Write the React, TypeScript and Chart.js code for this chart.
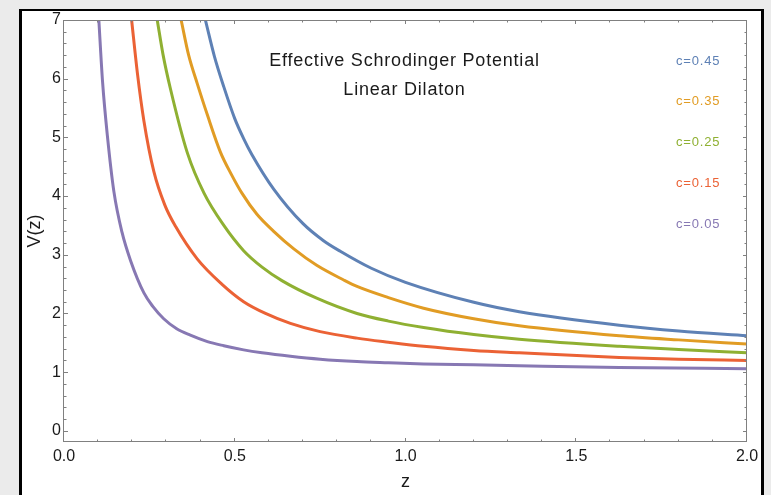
import React, { useEffect, useRef } from "react";
import { Chart, registerables } from "chart.js";

Chart.register(...registerables);

// ---- data ----
const seriesNames = ["c=0.45", "c=0.35", "c=0.25", "c=0.15", "c=0.05"];
const seriesColors = ["#5E81B5", "#E19C24", "#8FB032", "#EB6235", "#8778B3"];

const zC045 = [0.414, 0.44, 0.468, 0.5, 0.526, 0.55, 0.614, 0.7, 0.76, 0.809, 0.9, 1.0, 1.2, 1.333, 1.626, 1.8, 2.0];
const vC045 = [7.0, 6.39, 5.86, 5.32, 4.98, 4.71, 4.12, 3.53, 3.24, 3.06, 2.77, 2.53, 2.19, 2.03, 1.8, 1.7, 1.62];

const zC035 = [0.343, 0.365, 0.39, 0.42, 0.458, 0.49, 0.521, 0.565, 0.614, 0.673, 0.74, 0.819, 0.858, 0.95, 1.053, 1.2, 1.333, 1.626, 1.8, 2.0];
const vC035 = [7.0, 6.4, 5.92, 5.38, 4.75, 4.37, 4.05, 3.69, 3.4, 3.1, 2.82, 2.57, 2.46, 2.27, 2.09, 1.91, 1.79, 1.62, 1.55, 1.48];

const zC025 = [0.273, 0.29, 0.312, 0.361, 0.41, 0.468, 0.526, 0.58, 0.638, 0.74, 0.858, 0.95, 1.053, 1.2, 1.333, 1.626, 1.8, 2.0];
const vC025 = [7.0, 6.41, 5.82, 4.74, 4.05, 3.5, 3.07, 2.79, 2.56, 2.26, 2.0, 1.87, 1.76, 1.64, 1.56, 1.44, 1.385, 1.33];

const zC015 = [0.198, 0.215, 0.234, 0.263, 0.295, 0.327, 0.39, 0.462, 0.526, 0.59, 0.663, 0.75, 0.858, 0.95, 1.053, 1.2, 1.333, 1.626, 1.8, 2.0];
const vC015 = [7.0, 6.09, 5.28, 4.42, 3.85, 3.48, 2.93, 2.5, 2.2, 2.0, 1.83, 1.69, 1.58, 1.51, 1.44, 1.37, 1.33, 1.25, 1.22, 1.2];

const zC005 = [0.102, 0.113, 0.127, 0.146, 0.17, 0.195, 0.234, 0.26, 0.292, 0.33, 0.37, 0.42, 0.468, 0.526, 0.58, 0.663, 0.75, 0.858, 0.95, 1.053, 1.2, 1.333, 1.626, 2.0];
const vC005 = [7.0, 5.94, 5.03, 4.08, 3.38, 2.9, 2.35, 2.12, 1.91, 1.74, 1.63, 1.52, 1.45, 1.38, 1.33, 1.27, 1.22, 1.18, 1.16, 1.14, 1.125, 1.11, 1.08, 1.06];

const seriesZ = [zC045, zC035, zC025, zC015, zC005];
const seriesV = [vC045, vC035, vC025, vC015, vC005];

const xTickValues = [0, 0.5, 1.0, 1.5, 2.0];
const yTickValues = [0, 1, 2, 3, 4, 5, 6, 7];

const titleLines = ["Effective Schrodinger Potential", "Linear Dilaton"];
const xAxisTitle = "z";
const yAxisTitle = "V(z)";

const FONT = "'Liberation Sans', Arial, Helvetica, sans-serif";

const framePlugin = {
  id: "mmaFrame",
  afterDatasetsDraw(chart: any) {
    const { ctx, chartArea: a, scales } = chart;
    const x = scales.x;
    const y = scales.y;
    ctx.save();
    ctx.strokeStyle = "#808080";
    ctx.lineWidth = 1;
    ctx.strokeRect(a.left - 0.5, a.top + 0.5, a.right - a.left, a.bottom - a.top - 1);
    const seg = (x1: number, y1: number, x2: number, y2: number) => {
      ctx.beginPath();
      ctx.moveTo(x1, y1);
      ctx.lineTo(x2, y2);
      ctx.stroke();
    };
    for (let i = 0; i <= 20; i++) {
      const px = Math.round(x.getPixelForValue(i * 0.1)) - 0.5;
      const len = i % 5 === 0 ? 4 : 2.5;
      seg(px, a.bottom, px, a.bottom - len);
      seg(px, a.top, px, a.top + len);
    }
    for (let i = 0; i <= 35; i++) {
      const py = Math.round(y.getPixelForValue(i * 0.2)) + 0.5;
      const len = i % 5 === 0 ? 4 : 2.5;
      seg(a.left, py, a.left + len, py);
      seg(a.right, py, a.right - len, py);
    }
    ctx.restore();
  },
  afterDraw(chart: any) {
    const { ctx, scales } = chart;
    const x = scales.x;
    const y = scales.y;
    ctx.save();
    ctx.textAlign = "center";
    ctx.textBaseline = "middle";
    ctx.fillStyle = "#1a1a1a";
    ctx.font = `18px ${FONT}`;
    try { (ctx as any).letterSpacing = "0.8px"; } catch (e) {}
    const tx = x.getPixelForValue(0.997);
    ctx.fillText(titleLines[0], tx, y.getPixelForValue(6.3));
    ctx.fillText(titleLines[1], tx, y.getPixelForValue(5.81));
    ctx.font = `13px ${FONT}`;
    try { (ctx as any).letterSpacing = "0.8px"; } catch (e) {}
    const labelV = [6.3, 5.61, 4.91, 4.21, 3.51];
    seriesNames.forEach((n, i) => {
      ctx.fillStyle = seriesColors[i];
      ctx.fillText(n, x.getPixelForValue(1.857), y.getPixelForValue(labelV[i]));
    });
    ctx.restore();
  },
};

export default function App() {
  const canvasRef = useRef<HTMLCanvasElement | null>(null);

  useEffect(() => {
    if (!canvasRef.current) return;
    const datasets = seriesNames.map((name, i) => ({
      label: name,
      data: seriesZ[i].map((z, j) => ({ x: z, y: seriesV[i][j] })),
      borderColor: seriesColors[i],
      backgroundColor: seriesColors[i],
      borderWidth: 3,
      pointRadius: 0,
      fill: false,
      cubicInterpolationMode: "monotone" as const,
    }));
    const chart = new Chart(canvasRef.current, {
      type: "line",
      data: { datasets },
      plugins: [framePlugin],
      options: {
        responsive: false,
        animation: false,
        devicePixelRatio: 1,
        layout: { padding: { left: 0, right: 24, top: 20, bottom: 0 } },
        plugins: {
          legend: { display: false },
          tooltip: { enabled: false },
          title: { display: false },
        },
        scales: {
          x: {
            type: "linear",
            min: 0,
            max: 2,
            afterFit: (s: any) => {
              s.height = 53;
            },
            afterBuildTicks: (s: any) => {
              s.ticks = xTickValues.map((v) => ({ value: v }));
            },
            grid: { display: false, drawTicks: false },
            border: { display: false },
            ticks: {
              color: "#1a1a1a",
              padding: 5,
              maxRotation: 0,
              autoSkip: false,
              font: { family: FONT, size: 16 },
              callback: (v: any) => Number(v).toFixed(1),
            },
            title: {
              display: true,
              text: xAxisTitle,
              color: "#1a1a1a",
              font: { family: FONT, size: 18 },
              padding: { top: 0, bottom: 2 },
            },
          },
          y: {
            type: "linear",
            min: -0.19,
            max: 7,
            afterFit: (s: any) => {
              s.width = 64;
            },
            afterBuildTicks: (s: any) => {
              s.ticks = yTickValues.map((v) => ({ value: v }));
            },
            grid: { display: false, drawTicks: false },
            border: { display: false },
            ticks: {
              color: "#1a1a1a",
              padding: 3,
              autoSkip: false,
              font: { family: FONT, size: 16 },
              callback: (v: any) => String(v),
            },
            title: {
              display: true,
              text: yAxisTitle,
              color: "#1a1a1a",
              font: { family: FONT, size: 18 },
              padding: { top: 24, bottom: 0 },
            },
          },
        },
      },
    });
    return () => chart.destroy();
  }, []);

  return (
    <div style={{ position: "fixed", left: 0, top: 0, width: 771, height: 495, background: "#ebebeb", overflow: "hidden" }}>
      <div
        style={{
          position: "absolute",
          left: 19,
          top: 9,
          width: 739,
          height: 500,
          background: "#ffffff",
          borderLeft: "3px solid #000",
          borderRight: "3px solid #000",
          borderTop: "2px solid #000",
        }}
      />
      <canvas ref={canvasRef} width={771} height={495} style={{ position: "absolute", left: 0, top: 0, width: 771, height: 495 }} />
    </div>
  );
}
